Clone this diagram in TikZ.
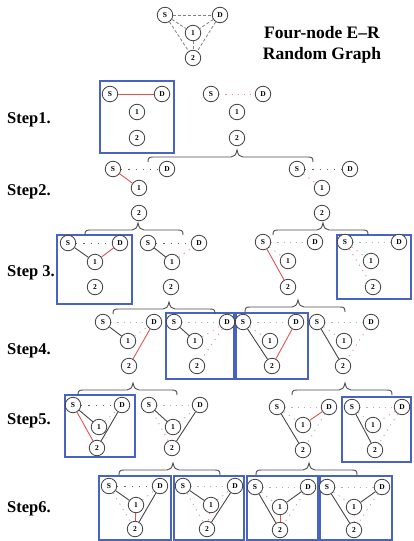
\documentclass[tikz,border=0pt]{standalone}
\usepackage{fontspec}
\setmainfont{Liberation Serif}
\definecolor{myred}{RGB}{232,80,80}
\definecolor{myblue}{RGB}{72,100,192}
\newcommand\gph[5]{%
  \node[nd] (#1-s) at (#2) {S};
  \node[nd] (#1-d) at (#3) {D};
  \node[nd] (#1-1) at (#4) {1};
  \node[nd] (#1-2) at (#5) {2};}
\newcommand\brc[4]{\draw[brs] ({#1},{#4+5}) .. controls ({#1},{#4+1}) and ({#1+1},{#4}) .. ({#1+5},{#4}) -- ({#2-6},{#4}) .. controls ({#2-3},{#4}) and ({#2-1},{#4-2}) .. ({#2},{#4-7}) .. controls ({#2+1},{#4-2}) and ({#2+3},{#4}) .. ({#2+6},{#4}) -- ({#3-5},{#4}) .. controls ({#3-1},{#4}) and ({#3},{#4+1}) .. ({#3},{#4+5});}
\begin{document}
\begin{tikzpicture}[x=1pt,y=-1pt,
  nd/.style={circle,draw=black!75,line width=0.8pt,minimum size=15.5pt,inner sep=0pt,fill=white,font=\fontsize{7.5}{8}\selectfont\bfseries},
  ek/.style={draw=black!72,line width=0.9pt},
  er/.style={draw=myred,line width=0.9pt},
  dk/.style={draw=black!60,line width=0.9pt,dash pattern=on 1.2pt off 6pt},
  dg/.style={draw=black!30,line width=0.9pt,dash pattern=on 1.2pt off 5pt},
  dr/.style={draw=myred!65,line width=0.9pt,dash pattern=on 1.2pt off 5pt},
  dsh/.style={draw=black!50,line width=0.8pt,dash pattern=on 3pt off 2pt},
  bx/.style={draw=myblue,line width=1.1pt},
  brs/.style={draw=black!70,line width=0.9pt},
  stp/.style={anchor=base west,inner sep=0pt,font=\fontsize{16.5}{18}\selectfont\bfseries},
  ttl/.style={align=center,inner sep=0pt,font=\fontsize{17.5}{21.5}\selectfont\bfseries}]
\useasboundingbox (0,0) rectangle (413,541);

% boxes
\draw[bx] (100,81) rectangle (174,153);
\draw[bx] (57,235) rectangle (132,304);
\draw[bx] (337,235) rectangle (411,299);
\draw[bx] (166,313) rectangle (234,379);
\draw[bx] (236,313) rectangle (308,379);
\draw[bx] (65,395) rectangle (135,457);
\draw[bx] (342,397) rectangle (411,462);
\draw[bx] (99,476) rectangle (171,540);
\draw[bx] (174,476) rectangle (244,540);
\draw[bx] (247,476) rectangle (318,540);
\draw[bx] (320,476) rectangle (392,540);

% title graph
\gph{t}{165,15}{220,15}{193,33}{193,58}
\draw[dsh] (t-s) -- (t-d);
\draw[dsh] (t-s) -- (t-1);
\draw[dsh] (t-s) -- (t-2);
\draw[dsh] (t-d) -- (t-1);
\draw[dsh] (t-d) -- (t-2);
\draw[dsh] (t-1) -- (t-2);
\node[ttl] (title) at (322,45) {Four-node E–R\\Random Graph};

% step labels
\node[stp] (st1) at (7,123) {Step1.};
\node[stp] (st2) at (7,195) {Step2.};
\node[stp] (st3) at (7,276) {Step 3.};
\node[stp] (st4) at (7,354) {Step4.};
\node[stp] (st5) at (7,424) {Step5.};
\node[stp] (st6) at (7,512) {Step6.};

% step 1
\gph{a1}{110,94}{162,94}{137,112}{137,138}
\draw[er] (a1-s) -- (a1-d);
\gph{a2}{211,94}{263,94}{237,112}{237,138}
\draw[dr] (a2-s) -- (a2-d);

% step 2
\gph{b1}{113,169}{167,169}{139,188}{139,213}
\draw[dk] (b1-s) -- (b1-d);
\draw[er] (b1-s) -- (b1-1);
\gph{b2}{297,169}{350,169}{322,188}{322,213}
\draw[dk] (b2-s) -- (b2-d);
\draw[dr] (b2-s) -- (b2-1);

% step 3
\gph{c1}{68,243}{120,243}{95,262}{95,287}
\draw[dk] (c1-s) -- (c1-d);
\draw[ek] (c1-s) -- (c1-1);
\draw[er] (c1-1) -- (c1-d);
\gph{c2}{148,243}{199,243}{172,262}{171,287}
\draw[dk] (c2-s) -- (c2-d);
\draw[ek] (c2-s) -- (c2-1);
\draw[dr] (c2-1) -- (c2-d);
\gph{c3}{263,242}{315,242}{288,261}{288,287}
\draw[dg] (c3-s) -- (c3-d);
\draw[dg] (c3-s) -- (c3-1);
\draw[er] (c3-s) -- (c3-2);
\gph{c4}{345,242}{399,242}{371,261}{373,287}
\draw[dg] (c4-s) -- (c4-d);
\draw[dg] (c4-s) -- (c4-1);
\draw[dr] (c4-s) -- (c4-2);

% step 4
\gph{d1}{103,322}{154,322}{128,341}{129,366}
\draw[dg] (d1-s) -- (d1-d);
\draw[ek] (d1-s) -- (d1-1);
\draw[dg] (d1-1) -- (d1-d);
\draw[er] (d1-d) -- (d1-2);
\gph{d2}{174,322}{227,322}{195,341}{197,366}
\draw[dg] (d2-s) -- (d2-d);
\draw[ek] (d2-s) -- (d2-1);
\draw[dg] (d2-1) -- (d2-d);
\draw[dr] (d2-d) -- (d2-2);
\gph{d3}{243,322}{296,322}{270,341}{272,366}
\draw[dg] (d3-s) -- (d3-d);
\draw[dg] (d3-s) -- (d3-1);
\draw[ek] (d3-s) -- (d3-2);
\draw[er] (d3-d) -- (d3-2);
\gph{d4}{317,322}{371,322}{344,341}{343,366}
\draw[dg] (d4-s) -- (d4-d);
\draw[dg] (d4-s) -- (d4-1);
\draw[ek] (d4-s) -- (d4-2);
\draw[dr] (d4-d) -- (d4-2);

% step 5
\gph{e1}{73,405}{122,405}{99,427}{97,448}
\draw[dk] (e1-s) -- (e1-d);
\draw[ek] (e1-s) -- (e1-1);
\draw[dg] (e1-1) -- (e1-d);
\draw[ek] (e1-d) -- (e1-2);
\draw[er] (e1-s) -- (e1-2);
\gph{e2}{149,405}{200,405}{173,427}{172,448}
\draw[dg] (e2-s) -- (e2-d);
\draw[ek] (e2-s) -- (e2-1);
\draw[dg] (e2-1) -- (e2-d);
\draw[ek] (e2-d) -- (e2-2);
\draw[dr] (e2-s) -- (e2-2);
\gph{e3}{277,407}{329,407}{303,425}{303,450}
\draw[dg] (e3-s) -- (e3-d);
\draw[dg] (e3-s) -- (e3-1);
\draw[ek] (e3-s) -- (e3-2);
\draw[er] (e3-d) -- (e3-1);
\draw[dg] (e3-d) -- (e3-2);
\gph{e4}{352,407}{402,407}{373,425}{375,450}
\draw[dg] (e4-s) -- (e4-d);
\draw[dg] (e4-s) -- (e4-1);
\draw[ek] (e4-s) -- (e4-2);
\draw[dr] (e4-d) -- (e4-1);
\draw[dg] (e4-d) -- (e4-2);

% step 6
\gph{f1}{109,486}{160,486}{136,505}{135,529}
\draw[dk] (f1-s) -- (f1-d);
\draw[ek] (f1-s) -- (f1-1);
\draw[ek] (f1-d) -- (f1-2);
\draw[dg] (f1-s) -- (f1-2);
\draw[dg] (f1-1) -- (f1-d);
\draw[er] (f1-1) -- (f1-2);
\gph{f2}{183,486}{235,486}{211,505}{207,529}
\draw[dg] (f2-s) -- (f2-d);
\draw[ek] (f2-s) -- (f2-1);
\draw[ek] (f2-d) -- (f2-2);
\draw[dg] (f2-s) -- (f2-2);
\draw[dg] (f2-1) -- (f2-d);
\draw[dr] (f2-1) -- (f2-2);
\gph{f3}{255,487}{308,487}{280,507}{280,530}
\draw[dg] (f3-s) -- (f3-d);
\draw[dg] (f3-s) -- (f3-1);
\draw[ek] (f3-s) -- (f3-2);
\draw[ek] (f3-d) -- (f3-1);
\draw[dg] (f3-d) -- (f3-2);
\draw[er] (f3-1) -- (f3-2);
\gph{f4}{327,487}{382,487}{354,507}{354,530}
\draw[dg] (f4-s) -- (f4-d);
\draw[dg] (f4-s) -- (f4-1);
\draw[ek] (f4-s) -- (f4-2);
\draw[ek] (f4-d) -- (f4-1);
\draw[dg] (f4-d) -- (f4-2);
\draw[dr] (f4-1) -- (f4-2);

% braces
\brc{148}{237}{313}{157}
\brc{85}{138}{183}{230}
\brc{273}{323}{368}{230}
\brc{113}{169}{215}{309}
\brc{245}{298}{345}{307}
\brc{78}{133}{177}{390}
\brc{292}{345}{392}{390}
\brc{119}{173}{220}{470}
\brc{256}{309}{357}{470}
\end{tikzpicture}
\end{document}
